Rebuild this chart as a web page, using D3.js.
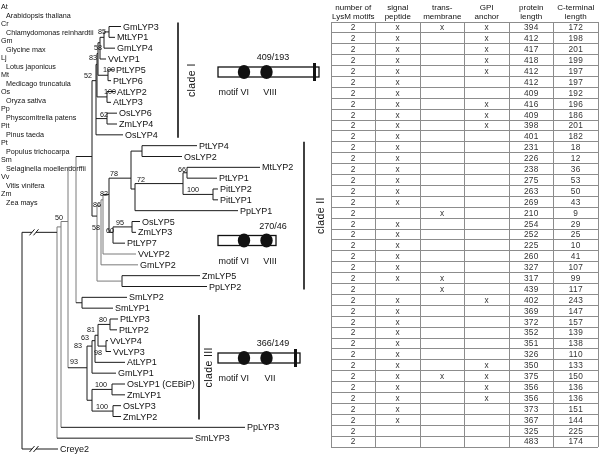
<!DOCTYPE html>
<html><head><meta charset="utf-8">
<script src="https://cdn.jsdelivr.net/npm/d3@7"></script>
<style>body{margin:0;background:#fff}svg{display:block;font-family:"Liberation Sans",Arial,Helvetica,sans-serif;will-change:transform}</style>
</head><body><svg id="c" width="600" height="455"></svg>
<script>
// ---------------- data ----------------
const speciesCodes = ["At","Cr","Gm","Lj","Mt","Os","Pp","Pit","Pt","Sm","Vv","Zm"];
const speciesNames = ["Arabidopsis thaliana","Chlamydomonas reinhardtii","Glycine max","Lotus japonicus",
  "Medicago truncatula","Oryza sativa","Physcomitrella patens","Pinus taeda","Populus trichocarpa",
  "Selaginella moellendorffii","Vitis vinifera","Zea mays"];

// tree nodes: [name, branch length, children]
const cladeI = ["CI", 4, [
  ["I7", 1, [
    ["I5", 1, [
      ["I3", 2, [
        ["I2", 4, [
          ["I1", 5, [["GmLYP3", 12], ["MtLYP1", 6]]],
          ["GmLYP4", 11]]],
        ["VvLYP1", 6]]],
      ["I4", 10, [["PtLYP5", 6], ["PtLYP6", 3]]]]],
    ["I6", 10, [["AtLYP2", 8], ["AtLYP3", 4]]]]],
  ["I8", 11, [["OsLYP6", 10], ["ZmLYP4", 10]]],
  ["OsLYP4", 27]]];

const cladeII = ["CII", 5, [
  ["c", 4, [
    ["b", 2, [
      ["a", 6, [
        ["Nup", 22, [
          ["P1", 11, [["PtLYP4", 55], ["OsLYP2", 40]]],
          ["Q", 4, [
            ["N72", 48, [
              ["N66", 4, [["MtLYP2", 73], ["PtLYP1", 30]]],
              ["N100p", 30, [["PitLYP2", 5], ["PitLYP1", 5]]]]],
            ["PpLYP1", 103]]]]],
        ["N60", 4, [
          ["N95", 19, [["OsLYP5", 8], ["ZmLYP3", 4]]],
          ["PtLYP7", 12]]]]],
      ["VvLYP2", 33]]],
    ["GmLYP2", 37]]],
  ["ZP", 25, [["ZmLYP5", 78], ["PpLYP2", 85]]]]];

const cladeIII = ["CIII", 19, [
  ["X1", 5, [
    ["X2", 3, [
      ["X3", 3, [
        ["N80", 12, [["PtLYP3", 8], ["PtLYP2", 7]]],
        ["N98", 8, [["VvLYP4", 2], ["VvLYP3", 5]]]]],
      ["AtLYP1", 30]]],
    ["GmLYP1", 24]]],
  ["M0", 5, [
    ["M1", 20, [["OsLYP1 (CEBiP)", 13], ["ZmLYP1", 13]]],
    ["M2", 21, [["OsLYP3", 8], ["ZmLYP2", 8]]]]]]];

const backbone = ["root", 0, [
  ["Nd", 35, [
    ["Nc", 4, [
      ["Nb", 7, [
        ["Na", 8, [
          ["N3", 16, [cladeI, cladeII]],
          ["SmP", 6, [["SmLYP2", 45], ["SmLYP1", 31]]]]],
        cladeIII]],
      ["PpLYP3", 184]]],
    ["SmLYP3", 136]]],
  ["Creye2", 36]]];

const bootstrap = [["I1",85],["I2",58],["I3",83],["I5",52],["I4",100],["I6",100],["I8",62],
  ["Nup",78],["N72",72],["N66",66],["N100p",100],["N95",95],["N60",60],["a",82],["b",86],["CII",58],
  ["CIII",93],["X1",83],["X2",63],["X3",81],["N80",80],["N98",98],["M1",100],["M2",100],["Nc",50]];

const cladeNames = ["clade I","clade II","clade III"];
const cladeRoots = ["CI","CII","CIII"];
const cladeProteinLen = [409, 270, 366];
const cladeCtermLen = [193, 46, 149];
const cladeMotifs = [["motif VI","VIII"],["motif VI","VIII"],["motif VI","VII"]];
const cladeAnchor = [true, false, true];

const headerLine1 = ["number of","signal","trans-","GPI","protein","C-terminal"];
const headerLine2 = ["LysM motifs","peptide","membrane","anchor","length","length"];
const motifCount = [2,2,2,2,2,2,2,2,2,2,2, 2,2,2,2,2,2,2,2,2,2,2,2,2,2, 2,2,2,2,2,2,2,2,2,2,2,2,2,2];
const signalPeptide = [1,1,1,1,1,1,1,1,1,1,1, 1,1,1,1,1,1,0,1,1,1,1,1,1,0, 1,1,1,1,1,1,1,1,1,1,1,1,0,0];
const transmembrane = [1,0,0,0,0,0,0,0,0,0,0, 0,0,0,0,0,0,1,0,0,0,0,0,1,1, 0,0,0,0,0,0,0,1,0,0,0,0,0,0];
const gpiAnchor = [1,1,1,1,1,0,0,1,1,1,0, 0,0,0,0,0,0,0,0,0,0,0,0,0,0, 1,0,0,0,0,0,1,1,1,1,0,0,0,0];
const proteinLength = [394,412,417,418,412,412,409,416,409,398,401, 231,226,238,275,263,269,210,254,252,225,260,327,317,439,
  402,369,372,352,351,326,350,375,356,356,373,367,325,483];
const cTerminalLength = [172,198,201,199,197,197,192,196,186,201,182, 18,12,36,53,50,43,9,29,25,10,41,107,99,117,
  243,147,157,139,138,110,133,150,136,136,151,144,225,174];

// ---------------- drawing ----------------
const svg = d3.select("#c");
const FONT = "#111";

// species legend
const legY = d3.scaleLinear().domain([0, 23]).range([6.5, 202]);
speciesCodes.forEach((c, i) => {
  svg.append("text").attr("x", 1).attr("y", legY(2 * i)).attr("dy", "0.35em")
    .attr("font-size", 7.2).attr("fill", FONT).text(c);
  svg.append("text").attr("x", 6).attr("y", legY(2 * i + 1)).attr("dy", "0.35em")
    .attr("font-size", 7.2).attr("fill", FONT).text(speciesNames[i]);
});

// tree
function toNode(a) { const o = {name: a[0], len: a[1]}; if (a[2]) o.children = a[2].map(toNode); return o; }
const root = d3.hierarchy(toNode(backbone));
root.eachBefore(d => { d.dist = d.parent ? d.parent.dist + d.data.len : 0; });
const X = d3.scaleLinear().domain([0, 240]).range([22, 262]);
const Yleaf = d3.scaleLinear().domain([0, 39]).range([26.5, 449]);
root.leaves().forEach((l, i) => { l.yy = Yleaf(i); });
root.eachAfter(d => { if (d.children) d.yy = d3.mean(d.leaves(), l => l.yy); });
const byName = {}; root.each(d => byName[d.data.name] = d);

// lighter-drawn branches of the reference (backbone and lower clade II)
const greyNodes = new Set(["Nd","Nc","Nb","Na","b","c","CII"]);
const greyBranches = new Set(["Nc","Nb","Na","VvLYP2","GmLYP2","ZP","c","b"]);
const gT = svg.append("g").attr("stroke-width", 1).attr("fill", "none");
root.descendants().forEach(d => {
  if (d.children) {
    const ys = d.children.map(c => c.yy);
    gT.append("line").attr("x1", X(d.dist)).attr("x2", X(d.dist))
      .attr("y1", d3.min(ys)).attr("y2", d3.max(ys))
      .attr("stroke", greyNodes.has(d.data.name) ? "#7a7a7a" : "#1a1a1a");
  }
  if (d.parent) {
    const x1 = X(d.parent.dist), x2 = X(d.dist);
    const st = greyBranches.has(d.data.name) ? "#7a7a7a" : "#1a1a1a";
    if (d.parent === root) {
      gT.append("line").attr("x1", x1).attr("x2", x1 + 10).attr("y1", d.yy).attr("y2", d.yy).attr("stroke", st);
      gT.append("line").attr("x1", x1 + 14).attr("x2", x2).attr("y1", d.yy).attr("y2", d.yy).attr("stroke", st);
      [x1 + 10, x1 + 14].forEach(bx => gT.append("line").attr("x1", bx - 2.5).attr("x2", bx + 2.5)
        .attr("y1", d.yy + 3).attr("y2", d.yy - 3).attr("stroke", st));
    } else {
      gT.append("line").attr("x1", x1).attr("x2", x2).attr("y1", d.yy).attr("y2", d.yy).attr("stroke", st);
    }
  }
});
root.leaves().forEach(l => {
  svg.append("text").attr("x", X(l.dist) + 2).attr("y", l.yy).attr("dy", "0.35em")
    .attr("font-size", 9).attr("fill", FONT).text(l.data.name);
});

// bootstrap labels: [mode, dx, dy]
const place = {I1:["LC",-2,0], I2:["LL",-1,1], I3:["LL",-2,0], I5:["LL",-5,2], I4:["T",-2,0], I6:["T",0,0],
  I8:["B",3,0], Nup:["B",0,0], N72:["B",1,0], N66:["L",0,0], N100p:["B",3,0], N95:["B",2,0],
  N60:["LC",2,-2], a:["L",0,3], b:["LC",-1,5], CII:["LC",4,11.5], CIII:["B",1,-2], X1:["P",-4,-1],
  X2:["P",-2,-3.6], X3:["P",1,-6], N80:["B",0,0], N98:["LL",-3,3], M1:["B",2,0], M2:["B",3,0], Nc:["B",-3,-5]};
bootstrap.forEach(([n, v]) => {
  const d = byName[n], [m, ox, oy] = place[n];
  let x, y, anchor = "end";
  if (m === "B") { x = X(d.parent.dist) + 1; y = d.yy - 2; anchor = "start"; }
  else if (m === "L") { x = X(d.dist) - 1; y = d.yy - 1; }
  else if (m === "LC") { x = X(d.dist) - 1; y = d.yy + 2.5; }
  else if (m === "LL") { x = X(d.dist) - 1; y = d.children[d.children.length - 1].yy + 0.5; }
  else if (m === "P") { x = X(d.parent.dist) - 1; y = d.yy + 2.5; }
  else { x = X(d.dist) - 3; y = d.children[0].yy + 2.5; anchor = "start"; }
  svg.append("text").attr("x", x + ox).attr("y", y + oy).attr("text-anchor", anchor)
    .attr("font-size", 7.2).attr("fill", FONT).text(v);
});

// clades: bars, labels, domain diagrams
const barX = [178, 304, 199], labelX = [191, 320, 208], diagY = [72, 240.5, 358];
const diagW = d3.scaleLinear().domain([270, 366, 409]).range([58, 82, 101]);
const diagX0 = 218, motifX = [244, 266.5];
cladeNames.forEach((name, k) => {
  const r = byName[cladeRoots[k]];
  const ly = r.leaves().map(l => l.yy);
  const y0 = d3.min(ly) - 4, y1 = d3.max(ly) + 3;
  svg.append("line").attr("x1", barX[k]).attr("x2", barX[k]).attr("y1", y0).attr("y2", y1)
    .attr("stroke", "#111").attr("stroke-width", 1.6);
  const cy = (y0 + y1) / 2;
  svg.append("text").attr("transform", `translate(${labelX[k]},${cy}) rotate(-90)`)
    .attr("text-anchor", "middle").attr("dy", "0.35em").attr("font-size", 10.5).attr("fill", FONT)
    .attr("letter-spacing", 0.4).text(name);
  const dy = diagY[k], w = diagW(cladeProteinLen[k]);
  const g = svg.append("g");
  g.append("rect").attr("x", diagX0).attr("y", dy - 5).attr("width", w).attr("height", 10)
    .attr("fill", "#fff").attr("stroke", "#111").attr("stroke-width", 1.3);
  motifX.forEach(mx => g.append("ellipse").attr("cx", mx).attr("cy", dy).attr("rx", 6.2).attr("ry", 7).attr("fill", "#111"));
  if (cladeAnchor[k]) g.append("rect").attr("x", diagX0 + w - 6).attr("y", dy - 9).attr("width", 3).attr("height", 18).attr("fill", "#111");
  g.append("text").attr("x", 273).attr("y", dy - 15).attr("dy", "0.35em").attr("text-anchor", "middle")
    .attr("font-size", 9).attr("fill", FONT).text(cladeProteinLen[k] + "/" + cladeCtermLen[k]);
  g.append("text").attr("x", 249).attr("y", dy + 20).attr("dy", "0.35em").attr("text-anchor", "end")
    .attr("font-size", 9).attr("fill", FONT).text(cladeMotifs[k][0]);
  g.append("text").attr("x", 270).attr("y", dy + 20).attr("dy", "0.35em").attr("text-anchor", "middle")
    .attr("font-size", 9).attr("fill", FONT).text(cladeMotifs[k][1]);
});

// table
const col = d3.scaleBand().domain(d3.range(6)).range([331, 598]);
const row = d3.scaleBand().domain(d3.range(39)).range([22, 447]);
const gG = svg.append("g").attr("stroke", "#8c8c8c").attr("stroke-width", 1).attr("shape-rendering", "crispEdges");
d3.range(40).forEach(i => gG.append("line").attr("x1", 331).attr("x2", 598)
  .attr("y1", i < 39 ? row(i) : 447).attr("y2", i < 39 ? row(i) : 447));
d3.range(7).forEach(j => gG.append("line").attr("y1", 22).attr("y2", 447)
  .attr("x1", j < 6 ? col(j) : 598).attr("x2", j < 6 ? col(j) : 598));
headerLine1.forEach((h, j) => {
  const cx = col(j) + col.bandwidth() / 2;
  svg.append("text").attr("x", cx).attr("y", 7.5).attr("dy", "0.35em").attr("text-anchor", "middle")
    .attr("font-size", 8).attr("fill", FONT).text(h);
  svg.append("text").attr("x", cx).attr("y", 16).attr("dy", "0.35em").attr("text-anchor", "middle")
    .attr("font-size", 8).attr("fill", FONT).text(headerLine2[j]);
});
proteinLength.forEach((p, i) => {
  const vals = [motifCount[i], signalPeptide[i] ? "x" : "", transmembrane[i] ? "x" : "",
    gpiAnchor[i] ? "x" : "", p, cTerminalLength[i]];
  vals.forEach((v, j) => {
    if (v === "") return;
    svg.append("text").attr("x", col(j) + col.bandwidth() / 2).attr("y", row(i) + row.bandwidth() / 2)
      .attr("dy", "0.35em").attr("text-anchor", "middle").attr("font-size", 8.3)
      .attr("letter-spacing", 0.3).attr("fill", "#333").text(v);
  });
});
</script></body></html>
